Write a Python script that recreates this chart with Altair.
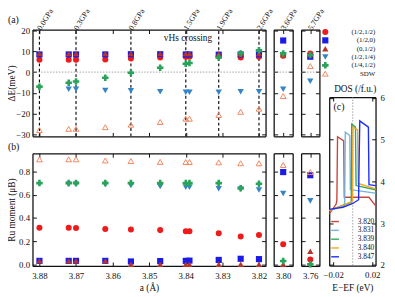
import altair as alt
import pandas as pd

FONT = "Liberation Serif"
W, H = 387, 289

# ---------------- data ----------------
series = ["(1/2,1/2)", "(1/2,0)", "(0,1/2)", "(1/2,1/4)", "(1/4,1/2)", "SDW"]
series_colors = ["#ee1b1b", "#1b1be8", "#b5352b", "#3584c6", "#2aa35a", "#f3865e"]
series_shapes = ["circle", "square", "triangle-up", "triangle-down", "cross", "triangle-up"]
series_sizes = [38, 44, 30, 30, 40, 34]

a_main = [3.880, 3.872, 3.870, 3.862, 3.855, 3.847, 3.840, 3.839, 3.831, 3.825, 3.820]
a_high = [3.80, 3.76]

pressure_a = [3.880, 3.870, 3.855, 3.840, 3.831, 3.820]
pressure_labels = ["0.0GPa", "0.3GPa", "0.8GPa", "1.5GPa", "1.9GPa", "2.6GPa"]
pressure_high = ["3.6GPa", "5.7GPa"]

# Delta E (meV)
dE_half_half = [5.9, 5.9, 5.9, 6.1, 6.6, 7.0, 7.4, 7.4, 7.6, 7.0, 7.4]
dE_half_0 = [8.5, 8.5, 8.5, 8.5, 8.6, 8.6, 8.5, 8.5, 8.4, 8.5, 8.5]
dE_0_half = [8.9, 8.9, 8.9, 8.9, 8.9, 8.9, 8.9, 8.9, 8.8, 8.8, 8.9]
dE_half_quarter = [None, -8.2, -8.2, -8.9, -9.0, -9.5, -9.7, -9.7, -9.7, -9.5, -9.5]
dE_quarter_half = [-7.0, -5.1, -4.5, -2.7, -0.3, 2.1, 4.0, 4.4, 7.0, 9.0, 10.5]
dE_sdw = [-27.9, -27.3, -27.3, -26.5, -25.3, -24.0, -22.4, -22.4, -20.6, -19.1, -17.6]

dE_high_half_half = [7.9, 9.0]
dE_high_half_0 = [15.2, 7.4]
dE_high_0_half = [8.4, 8.6]
dE_high_half_quarter = [-8.2, -4.4]
dE_high_quarter_half = [9.0, 8.2]
dE_high_sdw = [-11.5, 2.9]

# Ru moment (muB)
m_half_half = [0.315, 0.315, 0.313, 0.305, 0.300, 0.295, 0.285, 0.285, 0.267, 0.240, 0.253]
m_half_0 = [0.030, 0.030, 0.030, 0.030, 0.025, 0.028, 0.030, 0.032, 0.038, 0.048, 0.045]
m_0_half = [0.030, 0.030, 0.030, 0.030, 0.000, 0.000, 0.000, 0.000, 0.000, 0.000, 0.000]
m_half_quarter = [None, 0.690, 0.690, 0.688, 0.680, 0.670, 0.665, 0.665, 0.652, 0.650, 0.640]
m_quarter_half = [0.700, 0.700, 0.700, 0.700, 0.700, 0.700, 0.700, 0.700, 0.700, 0.655, 0.695]
m_sdw = [0.905, 0.905, 0.905, 0.895, 0.890, 0.883, 0.882, 0.882, 0.879, 0.871, 0.871]

m_high_half_half = [0.174, 0.042]
m_high_half_0 = [0.795, 0.768]
m_high_0_half = [0.000, 0.113]
m_high_half_quarter = [0.610, 0.547]
m_high_quarter_half = [0.029, 0.000]
m_high_sdw = [0.856, 0.795]

# DOS curves (c)
dos_labels = ["3.820", "3.831", "3.839", "3.840", "3.847"]
dos_colors = ["#c8463a", "#74b3de", "#2ca85a", "#f5a524", "#1a2cff"]
dos_E_3820 = [-0.0240, -0.0170, -0.0162, -0.0155, -0.0092, -0.0086, 0.0165, 0.0233]
dos_D_3820 = [3.22, 3.45, 3.55, 5.07, 4.97, 3.62, 3.62, 3.42]
dos_E_3831 = [-0.0240, -0.0090, -0.0082, -0.0076, -0.0030, -0.0024, 0.0233]
dos_D_3831 = [3.30, 3.42, 3.50, 5.18, 5.10, 3.80, 3.72]
dos_E_3839 = [-0.0240, -0.0015, -0.0010, 0.0028, 0.0034, 0.0233]
dos_D_3839 = [3.30, 3.50, 5.37, 5.30, 3.90, 3.80]
dos_E_3840 = [-0.0240, -0.0003, 0.0003, 0.0050, 0.0056, 0.0233]
dos_D_3840 = [3.30, 3.52, 5.30, 5.24, 3.95, 3.82]
dos_E_3847 = [-0.0240, -0.0100, 0.0000, 0.0060, 0.0066, 0.0072, 0.0160, 0.0166, 0.0233]
dos_D_3847 = [3.33, 3.38, 3.47, 3.56, 4.60, 5.45, 5.30, 3.92, 3.90]

# tick values
xticks_main = [3.88, 3.87, 3.86, 3.85, 3.84, 3.83, 3.82]
yticks_a = [-30, -20, -10, 0, 10, 20]
yticks_b = [0.0, 0.2, 0.4, 0.6, 0.8]
xticks_c = [-0.02, 0.02]
yticks_c = [2, 3, 4, 5, 6]

# ---------------- layout (chart px) ----------------
XA = (25, 263)
X80 = (271.3, 290.7)
X76 = (299.3, 318.0)
XC = (328, 375.3)
YA = (128, 19)
YB = (260.3, 145.3)
YC = (260, 88)

dom_x_main = [3.8819, 3.8182]
dom_x80 = [3.8026, 3.7974]
dom_x76 = [3.7626, 3.7574]
dom_ya = [-30.9, 20.45]
dom_yb = [-0.0135, 0.957]
dom_xc = [-0.024, 0.0233]
dom_yc = [1.98, 6.02]

INK = "#111111"


def sc(dom, rng):
    return alt.Scale(domain=list(dom), range=list(rng), nice=False, zero=False)


def axis(orient, offset, values, labels=False, fmt=None, pad=7, title=None, title_x=None, title_y=None):
    kw = dict(orient=orient, offset=offset, values=values, labels=labels, grid=False,
              domain=True, domainColor=INK, domainWidth=1.3, ticks=True,
              tickSize=alt.ExprRef(expr="-4"), tickColor=INK, tickWidth=1,
              labelFont=FONT, labelFontSize=9, labelColor=INK, labelPadding=pad,
              labelOverlap=False, labelFlush=False, title=title)
    if fmt is not None:
        kw["format"] = fmt
    if title is not None:
        kw.update(titleFont=FONT, titleFontSize=9.5, titleFontWeight="normal", titleColor=INK)
        if orient == "left":
            kw.update(titleAngle=270, titleBaseline="bottom")
        if title_x is not None:
            kw["titleX"] = title_x
        if title_y is not None:
            kw["titleY"] = title_y
    return alt.Axis(**kw)


def long_table(a_vals, cols):
    rows = []
    for name, vals in cols:
        for a, v in zip(a_vals, vals):
            if v is not None:
                rows.append({"a": a, "series": name, "v": v})
    return pd.DataFrame(rows)


filled = series[:5]


def enc_style():
    return dict(
        color=alt.Color("series:N", scale=alt.Scale(domain=filled, range=series_colors[:5]), legend=None),
        shape=alt.Shape("series:N", scale=alt.Scale(domain=filled, range=series_shapes[:5]), legend=None),
        size=alt.Size("series:N", scale=alt.Scale(domain=filled, range=series_sizes[:5]), legend=None),
    )


def sdw_mark(df):
    return alt.Chart(df).mark_point(filled=False, shape="triangle-up", size=series_sizes[5],
                                    strokeWidth=1, color=series_colors[5], opacity=1)


def text_layer(df, xs, ys, **mk):
    return alt.Chart(df).mark_text(font=FONT, color=INK, **mk).encode(
        x=alt.X("x:Q", scale=xs, axis=None), y=alt.Y("y:Q", scale=ys, axis=None), text="t:N")


# ---------------- top row (Delta E) ----------------
def top_panel(xdom, xr, xticks, a_vals, cols_f, col_s, px, plabels, main):
    xs = sc(xdom, xr)
    ys = sc(dom_ya, YA)
    ax_b = axis("bottom", YA[0] - H, xticks)
    ax_t = axis("top", -YA[1], xticks)
    if main:
        ax_l = axis("left", -xr[0], yticks_a, labels=True, fmt="d", pad=7, title="ΔE(meV)", title_x=-16)
    else:
        ax_l = axis("left", -xr[0], yticks_a)
    ax_r = axis("right", xr[1] - W, yticks_a)

    zero = alt.Chart(pd.DataFrame({"x0": [xdom[0]], "x1": [xdom[1]], "y": [0.0]})).mark_rule(
        color="#8a8a8a", strokeDash=[1.5, 1.5], strokeWidth=0.8).encode(
        x=alt.X("x0:Q", scale=xs, axis=ax_t), x2="x1:Q", y=alt.Y("y:Q", scale=ys, axis=ax_r))
    layers = [zero]
    if main:
        dl = pd.DataFrame({"a": px, "y0": [dom_ya[0]] * len(px), "y1": [dom_ya[1]] * len(px)})
        layers.append(alt.Chart(dl).mark_rule(color=INK, strokeDash=[3, 2.5], strokeWidth=1.2).encode(
            x=alt.X("a:Q", scale=xs, axis=None), y=alt.Y("y0:Q", scale=ys, axis=None), y2="y1:Q"))
    df_f = long_table(a_vals, cols_f)
    df_s = long_table(a_vals, [("SDW", col_s)])
    layers.append(alt.Chart(df_f).mark_point(filled=True, opacity=1).encode(
        x=alt.X("a:Q", scale=xs, axis=ax_b), y=alt.Y("v:Q", scale=ys, axis=ax_l), **enc_style()))
    layers.append(sdw_mark(df_s).encode(
        x=alt.X("a:Q", scale=xs, axis=None), y=alt.Y("v:Q", scale=ys, axis=None)))
    pt = pd.DataFrame({"x": px, "y": [dom_ya[1]] * len(px), "t": plabels})
    layers.append(text_layer(pt, xs, ys, angle=302, align="left", baseline="middle", fontSize=8))
    if main:
        layers.append(text_layer(pd.DataFrame({"x": [3.8394], "y": [16.2], "t": ["vHs crossing"]}), xs, ys,
                                 align="center", baseline="middle", fontSize=9.5))
        layers.append(text_layer(pd.DataFrame({"x": [3.8886], "y": [25.2], "t": ["(a)"]}), xs, ys,
                                 align="left", baseline="middle", fontSize=10))
    return alt.layer(*layers).resolve_axis(x="independent", y="independent")


# ---------------- bottom row (moment) ----------------
def bottom_panel(xdom, xr, xticks, a_vals, cols_f, col_s, main):
    xs = sc(xdom, xr)
    ys = sc(dom_yb, YB)
    if main:
        ax_b = axis("bottom", YB[0] - H, xticks, labels=True, fmt=".2f", pad=9.5, title="a (Å)", title_y=17)
        ax_l = axis("left", -xr[0], yticks_b, labels=True, fmt=".1f", pad=7, title="Ru moment (μB)", title_x=-16)
    else:
        ax_b = axis("bottom", YB[0] - H, xticks, labels=True, fmt=".2f", pad=9.5)
        ax_l = axis("left", -xr[0], yticks_b)
    ax_t = axis("top", -YB[1], xticks)
    ax_r = axis("right", xr[1] - W, yticks_b)
    df_f = long_table(a_vals, cols_f)
    df_s = long_table(a_vals, [("SDW", col_s)])
    layers = [
        alt.Chart(df_f).mark_point(filled=True, opacity=1).encode(
            x=alt.X("a:Q", scale=xs, axis=ax_b), y=alt.Y("v:Q", scale=ys, axis=ax_l), **enc_style()),
        sdw_mark(df_s).encode(x=alt.X("a:Q", scale=xs, axis=ax_t), y=alt.Y("v:Q", scale=ys, axis=ax_r)),
    ]
    if main:
        layers.append(text_layer(pd.DataFrame({"x": [3.8886], "y": [1.010], "t": ["(b)"]}), xs, ys,
                                 align="left", baseline="middle", fontSize=10))
    return alt.layer(*layers).resolve_axis(x="independent", y="independent")


cols_dE = list(zip(filled, [dE_half_half, dE_half_0, dE_0_half, dE_half_quarter, dE_quarter_half]))
cols_dE80 = list(zip(filled, [[v[0]] for v in [dE_high_half_half, dE_high_half_0, dE_high_0_half,
                                             dE_high_half_quarter, dE_high_quarter_half]]))
cols_dE76 = list(zip(filled, [[v[1]] for v in [dE_high_half_half, dE_high_half_0, dE_high_0_half,
                                             dE_high_half_quarter, dE_high_quarter_half]]))
cols_m = list(zip(filled, [m_half_half, m_half_0, m_0_half, m_half_quarter, m_quarter_half]))
cols_m80 = list(zip(filled, [[v[0]] for v in [m_high_half_half, m_high_half_0, m_high_0_half,
                                            m_high_half_quarter, m_high_quarter_half]]))
cols_m76 = list(zip(filled, [[v[1]] for v in [m_high_half_half, m_high_half_0, m_high_0_half,
                                            m_high_half_quarter, m_high_quarter_half]]))

pA = top_panel(dom_x_main, XA, xticks_main, a_main, cols_dE, dE_sdw, pressure_a, pressure_labels, True)
pA80 = top_panel(dom_x80, X80, [a_high[0]], [a_high[0]], cols_dE80, [dE_high_sdw[0]],
                 [a_high[0]], [pressure_high[0]], False)
pA76 = top_panel(dom_x76, X76, [a_high[1]], [a_high[1]], cols_dE76, [dE_high_sdw[1]],
                 [a_high[1]], [pressure_high[1]], False)
pB = bottom_panel(dom_x_main, XA, xticks_main, a_main, cols_m, m_sdw, True)
pB80 = bottom_panel(dom_x80, X80, [a_high[0]], [a_high[0]], cols_m80, [m_high_sdw[0]], False)
pB76 = bottom_panel(dom_x76, X76, [a_high[1]], [a_high[1]], cols_m76, [m_high_sdw[1]], False)

# ---------------- panel (c) DOS ----------------
rows = []
for lab, es, ds in zip(dos_labels, [dos_E_3820, dos_E_3831, dos_E_3839, dos_E_3840, dos_E_3847],
                       [dos_D_3820, dos_D_3831, dos_D_3839, dos_D_3840, dos_D_3847]):
    for i, (e, d) in enumerate(zip(es, ds)):
        rows.append({"curve": lab, "E": e, "D": d, "idx": i})
dos_df = pd.DataFrame(rows)

xsc = sc(dom_xc, XC)
ysc = sc(dom_yc, YC)
dos_color = alt.Color("curve:N", scale=alt.Scale(domain=dos_labels, range=dos_colors), legend=None)
pC = alt.layer(
    alt.Chart(pd.DataFrame({"x": [0.0], "y0": [dom_yc[0]], "y1": [dom_yc[1]]})).mark_rule(
        color="#8a8a8a", strokeDash=[1.5, 1.5], strokeWidth=0.8).encode(
        x=alt.X("x:Q", scale=xsc, axis=axis("top", -YC[1], xticks_c)),
        y=alt.Y("y0:Q", scale=ysc, axis=axis("right", XC[1] - W, yticks_c, labels=True, fmt="d", pad=8.5)),
        y2="y1:Q"),
    alt.Chart(dos_df).mark_line(strokeWidth=1.4).encode(
        x=alt.X("E:Q", scale=xsc, axis=axis("bottom", YC[0] - H, xticks_c, labels=True, fmt=".2f", pad=9.5,
                                            title="E−EF (eV)", title_y=17)),
        y=alt.Y("D:Q", scale=ysc, axis=axis("left", -XC[0], yticks_c)),
        color=dos_color, detail="curve:N", order="idx:Q"),
    text_layer(pd.DataFrame({"x": [-0.014], "y": [5.78], "t": ["(c)"]}), xsc, ysc,
               align="center", baseline="middle", fontSize=10),
    text_layer(pd.DataFrame({"x": [0.024], "y": [6.21], "t": ["DOS (/f.u.)"]}), xsc, ysc,
               align="right", baseline="middle", fontSize=9.5),
).resolve_axis(x="independent", y="independent")

# ---------------- legend for (a)/(b) ----------------
xl = sc([0, 1], (324, 375))
yl = alt.Scale(type="point", domain=series, range=[21.5, 64], padding=0)
leg_pts = pd.DataFrame({"series": filled, "x": [0] * 5})
leg_sdw = pd.DataFrame({"series": ["SDW"], "x": [0]})
leg_txt = pd.DataFrame({"series": series, "x": [1] * 6})
legA = alt.layer(
    alt.Chart(leg_pts).mark_point(filled=True, opacity=1).encode(
        x=alt.X("x:Q", scale=xl, axis=None), y=alt.Y("series:N", scale=yl, axis=None), **enc_style()),
    sdw_mark(leg_sdw).encode(x=alt.X("x:Q", scale=xl, axis=None), y=alt.Y("series:N", scale=yl, axis=None)),
    alt.Chart(leg_txt).mark_text(font=FONT, fontSize=7, color=INK, align="right", baseline="middle").encode(
        x=alt.X("x:Q", scale=xl, axis=None), y=alt.Y("series:N", scale=yl, axis=None), text="series:N"),
)

# ---------------- legend for (c) ----------------
xlc = sc([0, 1], (330, 374))
ylc = alt.Scale(type="point", domain=dos_labels, range=[215, 251], padding=0)
legc_df = pd.DataFrame({"curve": dos_labels, "x0": [0] * 5, "x1": [0.18] * 5, "xt": [1] * 5})
legC = alt.layer(
    alt.Chart(legc_df).mark_rule(strokeWidth=1.4).encode(
        x=alt.X("x0:Q", scale=xlc, axis=None), x2="x1:Q",
        y=alt.Y("curve:N", scale=ylc, axis=None), color=dos_color),
    alt.Chart(legc_df).mark_text(font=FONT, fontSize=7.5, color=INK, align="right", baseline="middle").encode(
        x=alt.X("xt:Q", scale=xlc, axis=None), y=alt.Y("curve:N", scale=ylc, axis=None), text="curve:N"),
)

chart = alt.layer(pA, pA80, pA76, pB, pB80, pB76, pC, legA, legC).resolve_scale(
    x="independent", y="independent", color="independent", shape="independent", size="independent"
).properties(
    width=W, height=H, padding=0, autosize=alt.AutoSizeParams(type="none")
).configure_view(stroke=None)

chart.save("out.html", embed_options={"renderer": "svg", "actions": False})
